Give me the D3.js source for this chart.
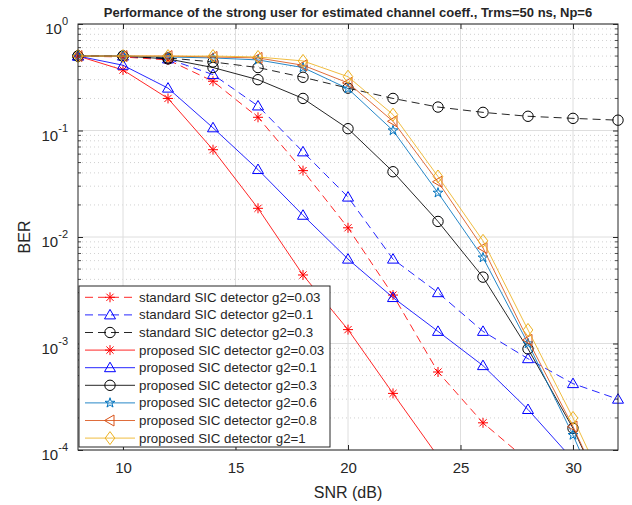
<!DOCTYPE html>
<html>
<head>
<meta charset="utf-8">
<script src="https://cdn.jsdelivr.net/npm/d3@7"></script>
<style>
  body { margin: 0; background: #fff; }
  text { font-family: "Liberation Sans", Arial, sans-serif; fill: #262626; }
</style>
</head>
<body>
<svg id="chart" width="632" height="505"></svg>
<script>
// values
const snr = [8, 10, 12, 14, 16, 18, 20, 22, 24, 26, 28, 30, 32];

const std_g003 = [0.5, 0.49, 0.46, 0.29, 0.133, 0.042, 0.0122, 0.00285, 5.4e-4, 1.8e-4, 7.9e-5];
const std_g01 = [0.5, 0.5, 0.47, 0.335, 0.17, 0.063, 0.0237, 0.0062, 0.003, 0.0013, 7.2e-4, 4.2e-4, 3e-4];
const std_g03 = [0.5, 0.5, 0.48, 0.44, 0.39, 0.316, 0.25, 0.2, 0.166, 0.148, 0.136, 0.13, 0.125];
const prop_g003 = [0.5, 0.37, 0.2, 0.066, 0.0186, 0.0044, 0.00135, 3.4e-4, 8.7e-5];
const prop_g01 = [0.5, 0.41, 0.25, 0.106, 0.043, 0.016, 0.0062, 0.0027, 0.0013, 6.2e-4, 2.4e-4, 8.1e-5];
const prop_g03 = [0.5, 0.5, 0.47, 0.39, 0.3, 0.2, 0.104, 0.041, 0.014, 0.0042, 8.9e-4, 1.6e-4, 2e-5];
const prop_g06 = [0.5, 0.5, 0.49, 0.48, 0.46, 0.39, 0.247, 0.1, 0.026, 0.0064, 0.001, 1.38e-4, 1.5e-5];
const prop_g08 = [0.5, 0.5, 0.5, 0.49, 0.48, 0.41, 0.28, 0.122, 0.033, 0.0079, 0.00108, 1.66e-4, 2e-5];
const prop_g1 = [0.5, 0.5, 0.5, 0.5, 0.49, 0.45, 0.32, 0.141, 0.037, 0.0092, 0.00134, 2e-4, 2.5e-5];

const legend_labels = [
  "standard SIC detector g2=0.03",
  "standard SIC detector g2=0.1",
  "standard SIC detector g2=0.3",
  "proposed SIC detector g2=0.03",
  "proposed SIC detector g2=0.1",
  "proposed SIC detector g2=0.3",
  "proposed SIC detector g2=0.6",
  "proposed SIC detector g2=0.8",
  "proposed SIC detector g2=1",
];

const x_ticks = [10, 15, 20, 25, 30];
const y_tick_exps = [0, -1, -2, -3, -4];

const series = [
  { values: std_g003, color: "#ff0000", dash: "8,5", marker: "asterisk" },
  { values: std_g01, color: "#0000ff", dash: "8,5", marker: "triangle" },
  { values: std_g03, color: "#000000", dash: "8,5", marker: "circle" },
  { values: prop_g003, color: "#ff0000", dash: null, marker: "asterisk" },
  { values: prop_g01, color: "#0000ff", dash: null, marker: "triangle" },
  { values: prop_g03, color: "#000000", dash: null, marker: "circle" },
  { values: prop_g06, color: "#0072bd", dash: null, marker: "pentagram" },
  { values: prop_g08, color: "#d95319", dash: null, marker: "left" },
  { values: prop_g1, color: "#edb120", dash: null, marker: "diamond" },
];

const margin = { left: 78, right: 14, top: 24, bottom: 55 };
const svg = d3.select("#chart");
const width = +svg.attr("width");
const height = +svg.attr("height");

const x = d3.scaleLinear().domain([8, 32]).range([margin.left, width - margin.right]);
const y = d3.scaleLog().domain([1e-4, 1]).range([height - margin.bottom, margin.top]);

const x0 = x.range()[0], x1 = x.range()[1];
const y0 = y.range()[0], y1 = y.range()[1];

// marker shapes, MATLAB-like
function markerPath(type) {
  if (type === "asterisk") {
    const r = 5, d = 3.6;
    return `M${-r},0L${r},0M0,${-r}L0,${r}M${-d},${-d}L${d},${d}M${-d},${d}L${d},${-d}`;
  }
  if (type === "triangle") return "M0,-5.5L5.5,4L-5.5,4Z";
  if (type === "left") return "M-5.5,0L4,-5.5L4,5.5Z";
  if (type === "diamond") return "M0,-6.5L4.8,0L0,6.5L-4.8,0Z";
  if (type === "circle") return d3.symbol(d3.symbolCircle, 85)();
  if (type === "pentagram") return d3.symbol(d3.symbolStar, 30)();
}

// grid
const grid = svg.append("g");
const minor = [];
y_tick_exps.slice(0, -1).forEach((e) => {
  for (let k = 2; k <= 9; k++) minor.push(k * Math.pow(10, e - 1));
});
grid.selectAll(".minor").data(minor).enter().append("line")
  .attr("x1", x0).attr("x2", x1)
  .attr("y1", (d) => y(d)).attr("y2", (d) => y(d))
  .attr("stroke", "#bdbdbd").attr("stroke-width", 0.7)
  .attr("stroke-dasharray", "1,3");
grid.selectAll(".majy").data(y_tick_exps).enter().append("line")
  .attr("x1", x0).attr("x2", x1)
  .attr("y1", (d) => y(Math.pow(10, d))).attr("y2", (d) => y(Math.pow(10, d)))
  .attr("stroke", "#dedede").attr("stroke-width", 1);
grid.selectAll(".majx").data(x_ticks).enter().append("line")
  .attr("x1", (d) => x(d)).attr("x2", (d) => x(d))
  .attr("y1", y0).attr("y2", y1)
  .attr("stroke", "#dedede").attr("stroke-width", 1);

// curves
svg.append("clipPath").attr("id", "plotclip")
  .append("rect").attr("x", x0).attr("y", y1).attr("width", x1 - x0).attr("height", y0 - y1);

const line = d3.line().x((d) => x(d[0])).y((d) => y(d[1]));

series.forEach((s) => {
  const pts = s.values.map((v, i) => [snr[i], v]);
  svg.append("path")
    .datum(pts)
    .attr("clip-path", "url(#plotclip)")
    .attr("fill", "none")
    .attr("stroke", s.color)
    .attr("stroke-opacity", 0.85)
    .attr("stroke-width", 1)
    .attr("stroke-dasharray", s.dash)
    .attr("d", line);

  svg.append("g").selectAll("path")
    .data(pts.filter((d) => d[1] >= 1e-4))
    .enter().append("path")
    .attr("transform", (d) => `translate(${x(d[0])},${y(d[1])})`)
    .attr("d", markerPath(s.marker))
    .attr("fill", "none")
    .attr("stroke", s.color)
    .attr("stroke-width", 1);
});

// axes box + ticks
const axisColor = "#262626";
const xb = svg.append("g")
  .attr("transform", `translate(0,${y0})`)
  .call(d3.axisBottom(x).tickValues(x_ticks).tickSize(-5).tickSizeOuter(0).tickPadding(12));
xb.selectAll("text").style("font-size", "15px");
const xt = svg.append("g")
  .attr("transform", `translate(0,${y1})`)
  .call(d3.axisTop(x).tickValues(x_ticks).tickSize(-5).tickSizeOuter(0).tickFormat(""));

const allY = y_tick_exps.map((e) => Math.pow(10, e));
const yl = svg.append("g")
  .attr("transform", `translate(${x0},0)`)
  .call(d3.axisLeft(y).tickValues(allY).tickSize(-5).tickSizeOuter(0).tickFormat(""));
const yr = svg.append("g")
  .attr("transform", `translate(${x1},0)`)
  .call(d3.axisRight(y).tickValues(allY).tickSize(-5).tickSizeOuter(0).tickFormat(""));
[x0, x1].forEach((px) => {
  const dir = px === x0 ? 1 : -1;
  svg.append("g").selectAll("line").data(minor).enter().append("line")
    .attr("x1", px).attr("x2", px + dir * 3)
    .attr("y1", (d) => y(d)).attr("y2", (d) => y(d))
    .attr("stroke", axisColor).attr("stroke-width", 0.8);
});
[xb, xt, yl, yr].forEach((g) => {
  g.select(".domain").remove();
  g.selectAll("line").attr("stroke", axisColor);
  g.selectAll("text").attr("fill", axisColor);
});
svg.append("rect")
  .attr("x", x0).attr("y", y1).attr("width", x1 - x0).attr("height", y0 - y1)
  .attr("fill", "none").attr("stroke", axisColor).attr("stroke-width", 1);

// y tick labels 10^n
const ylab = svg.append("g").selectAll("text").data(y_tick_exps).enter().append("text")
  .attr("x", 68)
  .attr("y", (d) => y(Math.pow(10, d)) + 10)
  .attr("text-anchor", "end")
  .style("font-size", "15px");
ylab.append("tspan").text("10");
ylab.append("tspan").attr("dy", -9).style("font-size", "11px").text((d) => d);

// titles
svg.append("text")
  .attr("x", (x0 + x1) / 2).attr("y", 17)
  .attr("text-anchor", "middle")
  .style("font-size", "13px").style("font-weight", "bold")
  .attr("fill", "#000")
  .text("Performance of the strong user for estimated channel coeff., Trms=50 ns, Np=6");
svg.append("text")
  .attr("x", (x0 + x1) / 2).attr("y", 498)
  .attr("text-anchor", "middle")
  .style("font-size", "16px")
  .text("SNR (dB)");
svg.append("text")
  .attr("transform", `translate(30,${(y0 + y1) / 2}) rotate(-90)`)
  .attr("text-anchor", "middle")
  .style("font-size", "16px")
  .text("BER");

// legend
const leg = svg.append("g");
leg.append("rect")
  .attr("x", 79).attr("y", 286).attr("width", 251).attr("height", 161)
  .attr("fill", "#fff").attr("stroke", axisColor).attr("stroke-width", 1);
const rows = leg.selectAll(".row").data(series).enter().append("g")
  .attr("transform", (d, i) => `translate(0,${297.3 + i * 17.6})`);
rows.append("line")
  .attr("x1", 85).attr("x2", 135)
  .attr("stroke", (d) => d.color).attr("stroke-width", 1)
  .attr("stroke-opacity", 0.85)
  .attr("stroke-dasharray", (d) => d.dash);
rows.append("path")
  .attr("transform", "translate(110,0)")
  .attr("d", (d) => markerPath(d.marker))
  .attr("fill", "none").attr("stroke", (d) => d.color).attr("stroke-width", 1);
rows.append("text")
  .attr("x", 139).attr("y", 4.5)
  .style("font-size", "13.3px")
  .text((d, i) => legend_labels[i]);
</script>
</body>
</html>
